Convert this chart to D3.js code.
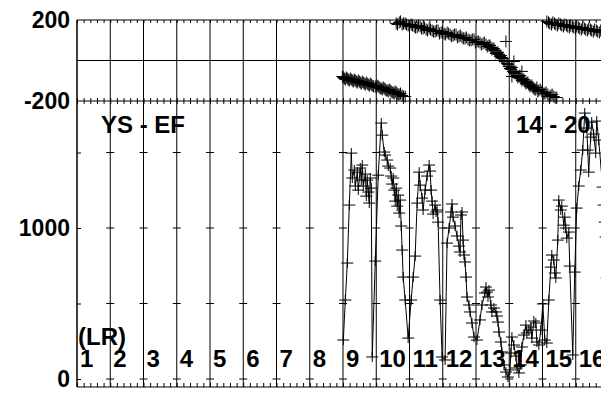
<!DOCTYPE html>
<html><head><meta charset="utf-8">
<script src="https://cdn.jsdelivr.net/npm/d3@7"></script>
<style>
body{margin:0;background:#fff;}
svg{display:block;}
text{font-family:"Liberation Sans",Arial,sans-serif;font-weight:bold;fill:#000;}
</style></head>
<body><svg id="c" width="601" height="395"></svg>
<script>
// ---- data ----
const lrLabels = ["1","2","3","4","5","6","7","8","9","10","11","12","13","14","15","16"];
const phaseTicks = [-200, 200];
const ampTicks = [0, 500, 1000, 1500];
const ampLabelled = [0, 1000];

const ampTime = [9.01,9.07,9.13,9.19,9.25,9.28,9.34,9.37,9.43,9.46,9.52,9.55,9.58,9.61,9.67,9.70,9.73,9.76,9.79,9.82,9.85,9.88,9.97,10.06,
 10.15,10.18,10.24,10.27,10.33,10.36,10.42,10.45,10.48,10.51,10.54,10.57,10.60,10.63,10.66,10.69,10.72,10.75,10.78,10.81,10.87,10.96,
 11.05,11.11,11.17,11.23,11.29,11.32,11.38,11.41,11.47,11.53,11.59,11.62,11.65,11.68,11.71,11.77,11.80,11.83,11.86,11.92,11.98,
 12.07,12.13,12.19,12.25,12.28,12.31,12.37,12.43,12.49,12.52,12.55,12.58,12.61,12.64,12.67,12.70,12.73,12.79,12.82,12.88,12.94,
 13.03,13.12,13.18,13.27,13.30,13.33,13.36,13.39,13.45,13.48,13.54,13.60,13.63,13.66,13.69,13.75,13.78,13.84,13.90,13.96,
 14.02,14.05,14.08,14.14,14.20,14.23,14.29,14.35,14.38,14.44,14.50,14.53,14.59,14.65,14.68,14.74,14.80,14.83,14.89,14.95,
 15.01,15.07,15.13,15.19,15.25,15.28,15.34,15.37,15.40,15.46,15.49,15.55,15.58,15.64,15.67,15.70,15.73,15.79,15.82,15.91,15.97,
 16.03,16.09,16.15,16.21,16.27,16.33,16.36,16.39,16.45,16.48,16.54,16.60,16.63,16.69,16.81,16.84,16.87,16.90,16.93,16.96];
const ampValue = [258,523,768,1152,1496,1331,1384,1278,1370,1251,1397,1317,1417,1278,1357,1211,1317,1238,1165,1331,1264,146,781,1350,
 1695,1615,1503,1483,1450,1410,1397,1344,1291,1331,1251,1178,1264,1145,1218,1099,1185,1013,854,675,523,271,
 523,675,814,1165,1370,1284,1198,1119,1251,1344,1417,1377,1251,1178,1092,1152,1106,1119,1039,523,146,
 126,900,1000,1106,1159,1072,1013,947,880,841,1086,1106,920,821,775,675,543,490,444,371,278,
 258,391,490,569,609,576,543,589,490,444,470,444,417,377,311,245,179,93,46,13,
 60,172,278,225,152,73,40,93,212,291,357,305,324,344,271,384,371,245,225,324,
 497,258,238,523,741,821,788,702,669,920,1185,1119,1145,1019,1072,1000,933,973,748,159,708,
 1132,1278,1384,1516,1761,1662,1516,1370,1602,1701,1622,1496,1708,1582,1271,1152,1039,940,669,344];

const phaseTime = [
 // branch 1
 8.98,9.01,9.04,9.07,9.10,9.13,9.16,9.19,9.22,9.25,9.28,9.31,9.34,9.37,9.40,9.43,9.46,9.49,9.52,9.55,9.58,9.61,9.64,9.67,9.70,9.73,9.76,9.79,9.82,9.85,9.88,9.92,9.97,10.00,
 10.03,10.06,10.09,10.12,10.15,10.18,10.21,10.24,10.27,10.30,10.33,10.36,10.39,10.42,10.45,10.48,10.51,10.54,10.57,10.60,10.63,10.66,10.69,10.73,10.78,10.82,10.87,
 // branch 2
 10.60,10.64,10.69,10.73,10.78,10.82,10.87,10.91,10.96,11.00,11.05,11.09,11.14,11.18,11.23,11.27,11.32,11.36,11.41,11.45,11.50,11.54,11.59,11.63,11.68,11.72,11.77,11.81,11.86,11.90,11.95,11.99,
 12.04,12.08,12.13,12.17,12.22,12.26,12.31,12.35,12.40,12.44,12.49,12.53,12.58,12.62,12.67,12.71,12.76,12.80,12.85,12.89,12.94,12.98,13.03,13.07,13.12,13.16,13.21,13.25,13.30,13.34,13.39,13.42,
 13.45,13.48,13.51,13.54,13.57,13.60,13.63,13.66,13.69,13.72,13.75,13.78,13.81,13.84,13.87,13.90,13.93,13.96,13.99,14.02,14.05,14.08,14.08,14.11,14.14,14.14,14.17,14.20,14.23,14.26,14.29,14.32,
 14.35,14.38,14.38,14.41,14.44,14.47,14.50,14.53,14.56,14.59,14.62,14.65,14.68,14.71,14.74,14.77,14.80,14.83,14.86,14.89,14.93,14.98,15.02,15.07,15.11,15.16,15.20,15.25,15.29,15.34,15.38,15.43,
 // branch 3
 15.13,15.18,15.22,15.27,15.31,15.36,15.40,15.45,15.49,15.54,15.58,15.63,15.67,15.72,15.76,15.81,15.85,15.90,15.94,15.99,16.03,16.08,16.12,16.17,16.21,16.26,16.30,16.35,16.39,16.44,16.48,16.53,16.57,16.62,16.66,16.71,16.75,16.80,16.84];
const phaseValue = [
 -79,-84,-89,-94,-84,-89,-94,-99,-89,-94,-99,-104,-94,-99,-104,-109,-99,-104,-109,-114,-104,-109,-114,-119,-109,-114,-119,-124,-114,-119,-124,-128,-128,-133,
 -124,-128,-133,-138,-138,-143,-133,-138,-143,-148,-148,-153,-143,-148,-153,-158,-158,-163,-153,-158,-163,-168,-168,-163,-173,-178,-178,
 183,178,188,193,178,183,183,178,173,168,178,173,168,163,163,173,168,158,158,163,153,148,158,153,148,143,143,148,148,133,138,143,
 133,128,138,133,128,119,123,128,128,114,119,123,114,109,109,114,104,99,99,104,104,89,94,94,89,79,84,89,79,69,74,74,
 64,54,59,59,49,35,40,40,30,20,25,15,10,0,-5,94,-15,-20,-30,-40,-44,-35,-79,-54,-59,-5,-64,-54,-74,-84,-79,-74,
 -89,-99,-54,-94,-94,-104,-114,-109,-109,-119,-128,-124,-123,-133,-138,-143,-143,-133,-153,-148,-143,-153,-163,-163,-158,-168,-178,-173,-168,-178,-183,-183,
 193,188,183,178,188,183,178,173,183,178,173,168,178,173,168,163,173,168,163,158,168,163,158,153,163,158,153,148,158,153,148,143,153,148,143,138,148,143,138];

// ---- layout ----
const svg = d3.select("#c");
const FONT = '"Liberation Sans",Arial,sans-serif';
const x = d3.scaleLinear().domain([1, 18]).range([77, 77 + 17 * 33.25]);
const yTop = d3.scaleLinear().domain([-200, 200]).range([101, 20]);
const yBot = d3.scaleLinear().domain([0, 1000]).range([379, 228]);
const topY = 20, midY = 101, botY = 387, W = 601;
const lines = d3.range(1, 19);

const g = svg.append("g").attr("stroke", "#000").attr("fill", "none").attr("stroke-width", 1);

// vertical grid lines
g.selectAll("line.v").data(lines).join("line")
  .attr("x1", d => x(d)).attr("x2", d => x(d))
  .attr("y1", topY).attr("y2", botY);
// horizontal borders
[topY, midY, botY, yTop(0)].forEach(yy =>
  g.append("line").attr("x1", x(1)).attr("x2", W + 5).attr("y1", yy).attr("y2", yy));

// minor ticks via d3 axes
const minor = d3.range(1, 18.001, 0.2);
function tickAxis(axis, y, size) {
  const a = svg.append("g").attr("transform", `translate(0,${y})`)
    .call(axis(x).tickValues(minor).tickSize(size).tickFormat(""));
  a.select(".domain").remove();
  a.selectAll("line").attr("stroke", "#000");
}
tickAxis(d3.axisBottom, topY, 3);
tickAxis(d3.axisBottom, midY, 3);
tickAxis(d3.axisTop, midY, 3);
tickAxis(d3.axisTop, botY, 4);

// grid tick crosses in the lower panel
const cross = [];
lines.slice(1).forEach(l => ampTicks.forEach(v => cross.push([l, v])));
g.selectAll("line.c").data(cross).join("line")
  .attr("x1", d => x(d[0]) - 4).attr("x2", d => x(d[0]) + 4)
  .attr("y1", d => yBot(d[1])).attr("y2", d => yBot(d[1]));

// left axes
const la1 = svg.append("g").attr("transform", `translate(${x(1)},0)`)
  .call(d3.axisLeft(yTop).tickValues(phaseTicks).tickSize(0).tickPadding(7).tickFormat(d => String(d)));
const la2 = svg.append("g").attr("transform", `translate(${x(1)},0)`)
  .call(d3.axisLeft(yBot).tickValues(ampTicks).tickSize(-4).tickPadding(7)
    .tickFormat(d => ampLabelled.includes(d) ? String(d) : ""));
[la1, la2].forEach(a => {
  a.select(".domain").attr("stroke", "#000").attr("d", `M0,${topY}V${botY}`);
  a.selectAll("line").attr("stroke", "#000");
  a.selectAll("text").attr("font-size", 23).attr("font-family", FONT).attr("font-weight", "bold");
});
la2.select(".domain").remove();

// plot clip
svg.append("clipPath").attr("id", "clip").append("rect")
  .attr("x", x(1)).attr("y", 0).attr("width", W).attr("height", botY);

const marker = "M-6,0H6M0,-6V6";
const pd = phaseTime.map((t, i) => [t, phaseValue[i]]);
const ad = ampTime.map((t, i) => [t, ampValue[i]]);

const plot = svg.append("g").attr("clip-path", "url(#clip)").attr("stroke", "#000").attr("fill", "none");
plot.selectAll("path.p").data(pd).join("path")
  .attr("d", marker).attr("transform", d => `translate(${x(d[0])},${yTop(d[1])})`);
plot.append("path").datum(ad)
  .attr("d", d3.line().x(d => x(d[0])).y(d => yBot(d[1])));
plot.selectAll("path.a").data(ad).join("path")
  .attr("d", "M-6,0H6M0,-5V5").attr("transform", d => `translate(${x(d[0])},${yBot(d[1])})`);

// labels
const T = (s, tx, ty) => svg.append("text").attr("x", tx).attr("y", ty).attr("font-size", 24).text(s);
T("YS - EF", 101, 133);
T("14 - 20", 516, 133);
T("(LR)", 78, 345);
svg.selectAll("text.n").data(lrLabels).join("text")
  .attr("x", (d, i) => x(i + 1) + 3).attr("y", 367).attr("font-size", 24).text(d => d);
</script></body></html>
